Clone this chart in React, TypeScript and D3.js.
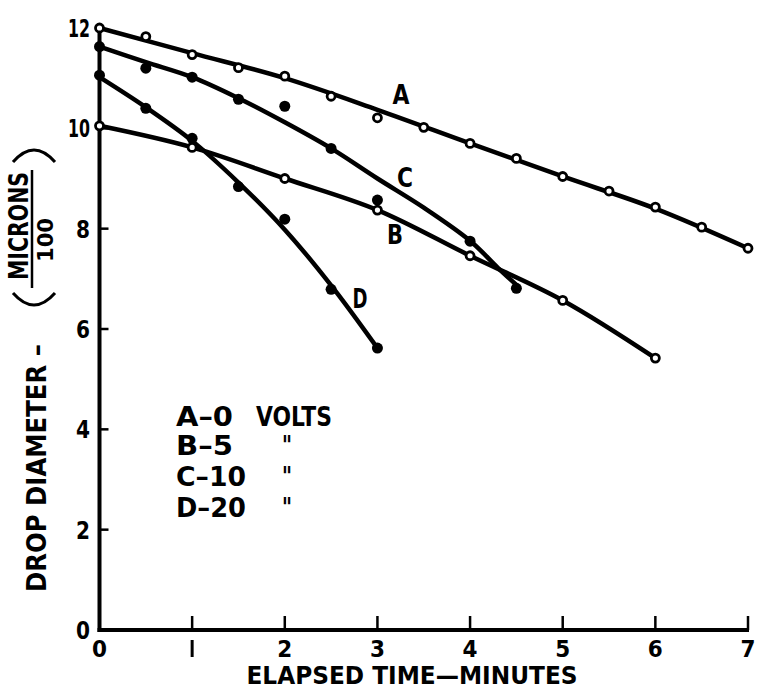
import React from 'react';
import * as d3 from 'd3';

// measured points (open = A, B; filled = C, D)
const aTimes = [0, 0.5, 1, 1.5, 2, 2.5, 3, 3.5, 4, 4.5, 5, 5.5, 6, 6.5, 7];
const aVals = [12.0, 11.83, 11.47, 11.21, 11.04, 10.64, 10.21, 10.02, 9.7, 9.4, 9.04, 8.75, 8.43, 8.03, 7.61];
const bTimes = [0, 1, 2, 3, 4, 5, 6];
const bVals = [10.05, 9.62, 9.0, 8.37, 7.46, 6.57, 5.42];
const cTimes = [0, 0.5, 1, 1.5, 2, 2.5, 3, 4, 4.5];
const cVals = [11.63, 11.2, 11.02, 10.58, 10.44, 9.6, 8.57, 7.75, 6.81];
const dTimes = [0, 0.5, 1, 1.5, 2, 2.5, 3];
const dVals = [11.06, 10.4, 9.8, 8.84, 8.19, 6.79, 5.62];

// hand-fitted curves drawn through the points
const aFitT = [0, 1, 2, 3, 4, 5, 6, 7];
const aFit = [12.0, 11.5, 11.0, 10.37, 9.7, 9.04, 8.4, 7.61];
const bFitT = bTimes;
const bFit = bVals;
const cFitT = [0, 0.5, 1, 1.5, 2, 2.5, 3, 3.5, 4, 4.3, 4.5];
const cFit = [11.63, 11.32, 11.02, 10.6, 10.12, 9.6, 9.0, 8.42, 7.76, 7.22, 6.88];
const dFitT = [0, 0.5, 1, 1.5, 2, 2.5, 3];
const dFit = [11.02, 10.42, 9.75, 8.92, 7.98, 6.87, 5.62];

const xTicks = [0, 1, 2, 3, 4, 5, 6, 7];
const yTicks = [0, 2, 4, 6, 8, 10, 12];
const legendLetters = ['A', 'B', 'C', 'D'];
const legendVolts = ['0', '5', '10', '20'];

const FONT = "'DejaVu Sans', sans-serif";

const x = d3.scaleLinear().domain([0, 7]).range([99.5, 748]);
const y = d3.scaleLinear().domain([0, 12]).range([630, 28]);

const line = d3
  .line<[number, number]>()
  .x((d) => x(d[0]))
  .y((d) => y(d[1]))
  .curve(d3.curveCatmullRom.alpha(0.5));

const zip = (t: number[], v: number[]): [number, number][] => t.map((tt, i) => [tt, v[i]]);

const Txt = ({ x: tx, y: ty, text, size, len, anchor = 'start', rotate = false }: any) => (
  <text
    x={rotate ? 0 : tx}
    y={rotate ? 0 : ty}
    transform={rotate ? `translate(${tx},${ty}) rotate(-90)` : undefined}
    dy={rotate ? '0.36em' : undefined}
    fontFamily={FONT}
    fontWeight="bold"
    fontSize={size}
    textAnchor={anchor}
    textLength={len}
    lengthAdjust={len ? 'spacingAndGlyphs' : undefined}
    fill="#000"
  >
    {text}
  </text>
);

export default function App() {
  const curves = [
    zip(aFitT, aFit),
    zip(bFitT, bFit),
    zip(cFitT, cFit),
    zip(dFitT, dFit),
  ];
  const openPts = [...zip(aTimes, aVals), ...zip(bTimes, bVals)];
  const filledPts = [...zip(cTimes, cVals), ...zip(dTimes, dVals)];

  return (
    <svg
      width={757}
      height={692}
      style={{ position: 'absolute', left: 0, top: 0, background: '#fff' }}
    >
      <rect width={757} height={692} fill="#fff" />

      {/* axes */}
      <line x1={x(0)} x2={x(0)} y1={y(0) + 2} y2={y(12)} stroke="#000" strokeWidth={4} />
      <line x1={x(0) - 2} x2={x(7) + 1} y1={y(0)} y2={y(0)} stroke="#000" strokeWidth={4} />
      {xTicks.slice(1).map((t) => (
        <line key={'xt' + t} x1={x(t)} x2={x(t)} y1={y(0)} y2={y(0) - 14} stroke="#000" strokeWidth={2.5} />
      ))}
      {yTicks.slice(1, -1).map((t) => (
        <line key={'yt' + t} x1={x(0)} x2={x(0) + 9} y1={y(t)} y2={y(t)} stroke="#000" strokeWidth={2.5} />
      ))}
      {xTicks.map((t) =>
        t === 1 ? (
          <line key="xl1" x1={x(1)} x2={x(1)} y1={640} y2={657} stroke="#000" strokeWidth={3} />
        ) : (
          <Txt key={'xl' + t} x={x(t)} y={657} text={String(t)} size={23} anchor="middle" len={15} />
        )
      )}
      {yTicks.map((t) => (
        <Txt
          key={'yl' + t}
          x={90}
          y={y(t) + 9}
          text={String(t)}
          size={24}
          anchor="end"
          len={t >= 10 ? 22 : 14}
        />
      ))}

      {/* axis titles */}
      <Txt x={412} y={684} text="ELAPSED TIME—MINUTES" size={25} anchor="middle" len={331} />
      <Txt x={37} y={468} text="DROP DIAMETER –" size={26} anchor="middle" len={248} rotate />
      <Txt x={19} y={226} text="MICRONS" size={26} anchor="middle" len={108} rotate />
      <Txt x={45} y={240} text="100" size={22} anchor="middle" len={44} rotate />
      <line x1={32} x2={32} y1={170} y2={288} stroke="#000" strokeWidth={2.5} />
      <path d="M13,162 Q34,138 55,162" fill="none" stroke="#000" strokeWidth={3} />
      <path d="M13,293 Q34,317 55,293" fill="none" stroke="#000" strokeWidth={3} />

      {/* curves */}
      {curves.map((c, i) => (
        <path key={'c' + i} d={line(c) || ''} fill="none" stroke="#000" strokeWidth={4.5} strokeLinecap="round" />
      ))}

      {/* markers */}
      {filledPts.map((p, i) => (
        <circle key={'f' + i} cx={x(p[0])} cy={y(p[1])} r={5.5} fill="#000" />
      ))}
      {openPts.map((p, i) => (
        <circle key={'o' + i} cx={x(p[0])} cy={y(p[1])} r={4} fill="#fff" stroke="#000" strokeWidth={2.8} />
      ))}

      {/* curve labels */}
      <Txt x={401} y={104} text="A" size={27} anchor="middle" len={17} />
      <Txt x={405} y={187} text="C" size={27} anchor="middle" len={16} />
      <Txt x={395} y={244} text="B" size={27} anchor="middle" len={16} />
      <Txt x={360} y={308} text="D" size={27} anchor="middle" len={15} />

      {/* legend */}
      {legendLetters.map((l, i) => {
        const by = [426, 455, 486, 517][i];
        return (
          <g key={'lg' + l}>
            <Txt x={176} y={by} text={`${l}–${legendVolts[i]}`} size={26} len={legendVolts[i].length > 1 ? 70 : 57} />
            {i === 0 ? (
              <Txt x={256} y={by} text="VOLTS" size={26} len={76} />
            ) : (
              <Txt x={287} y={by} text={'"'} size={26} anchor="middle" len={10} />
            )}
          </g>
        );
      })}
    </svg>
  );
}
